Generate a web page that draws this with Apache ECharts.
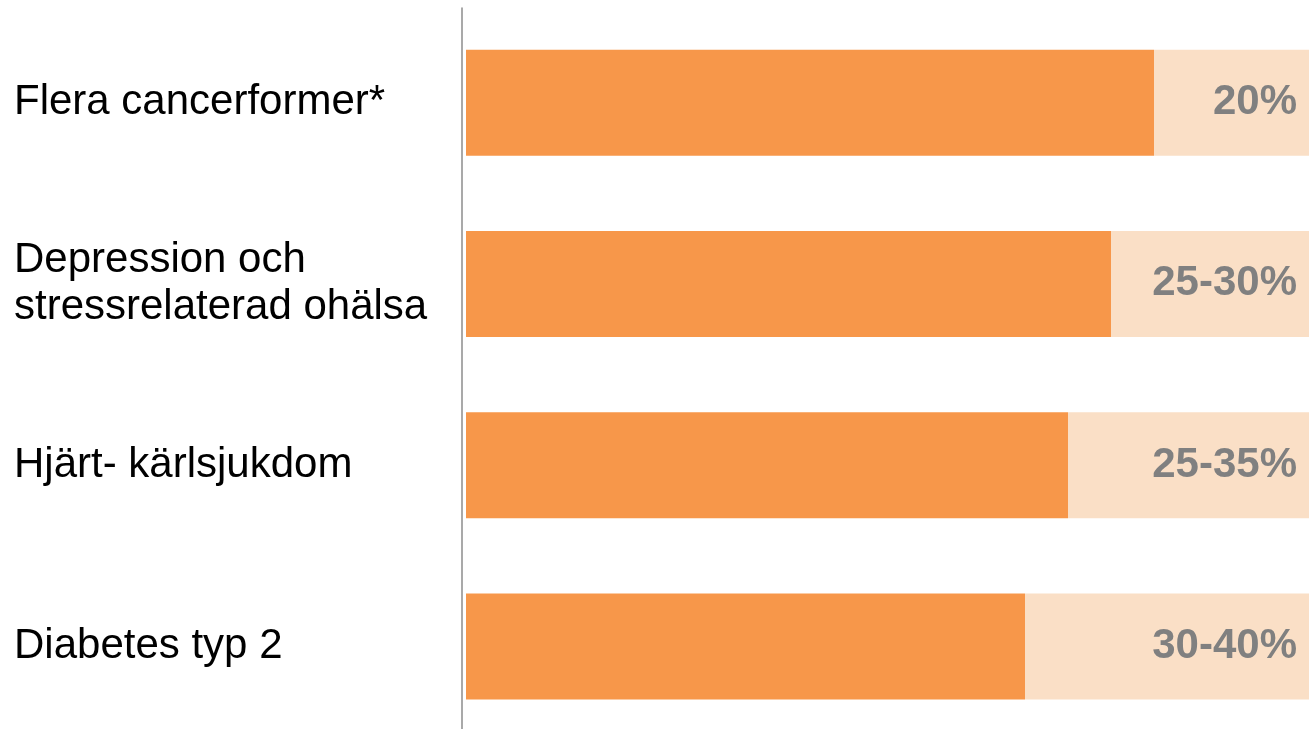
<!DOCTYPE html>
<html>
<head>
<meta charset="utf-8">
<script src="https://cdn.jsdelivr.net/npm/echarts@6/dist/echarts.min.js"></script>
<style>
  html, body { margin: 0; padding: 0; background: #ffffff; }
  #chart { width: 1309px; height: 729px; }
</style>
</head>
<body>
<div id="chart"></div>
<script>
// Diseases and the share that can be prevented (light part) vs. the rest (dark part)
const categories = [
  'Flera cancerformer*',
  'Depression och\nstressrelaterad ohälsa',
  'Hjärt- kärlsjukdom',
  'Diabetes typ 2'
];
const remainingShare = [80, 75, 70, 65];
const preventableShare = [20, 25, 30, 35];
const preventableLabels = ['20%', '25-30%', '25-35%', '30-40%'];

const FONT = "'Liberation Sans', Arial, Helvetica, sans-serif";

const chart = echarts.init(document.getElementById('chart'), null, { renderer: 'canvas' });

chart.setOption({
  animation: false,
  backgroundColor: '#ffffff',
  grid: [
    // Bar plot: runs past the right and bottom edges of the canvas, so the bars are cut off there
    { left: 466, top: 12, width: 860, height: 725, outerBoundsMode: 'none', containLabel: false },
    // Thin strip that only carries the vertical divider line left of the bars
    { left: 462, top: 8, width: 1, height: 740, outerBoundsMode: 'none', containLabel: false }
  ],
  xAxis: [
    { type: 'value', gridIndex: 0, min: 0, max: 100, show: false },
    { type: 'value', gridIndex: 1, min: 0, max: 1, show: false }
  ],
  yAxis: [
    {
      type: 'category',
      gridIndex: 0,
      data: categories,
      inverse: true,
      axisLine: { show: false },
      axisTick: { show: false },
      splitLine: { show: false },
      axisLabel: {
        align: 'left',
        margin: 452,
        padding: [4, 0, 0, 0],
        color: '#000000',
        fontFamily: FONT,
        fontSize: 42,
        lineHeight: 47
      }
    },
    {
      type: 'value',
      gridIndex: 1,
      min: 0,
      max: 1,
      axisLine: { show: true, lineStyle: { color: '#8c8c8c', width: 1.5 } },
      axisTick: { show: false },
      axisLabel: { show: false },
      splitLine: { show: false }
    }
  ],
  series: [
    {
      type: 'bar',
      stack: 'total',
      data: remainingShare,
      barWidth: 106,
      itemStyle: { color: '#F7974A' },
      silent: true
    },
    {
      type: 'bar',
      stack: 'total',
      data: preventableShare,
      barWidth: 106,
      itemStyle: { color: '#FADFC6' },
      silent: true,
      label: {
        show: true,
        position: 'insideRight',
        distance: 29,
        formatter: (p) => preventableLabels[p.dataIndex],
        color: '#808080',
        fontFamily: FONT,
        fontWeight: 'bold',
        fontSize: 42
      }
    }
  ]
});
</script>
</body>
</html>
